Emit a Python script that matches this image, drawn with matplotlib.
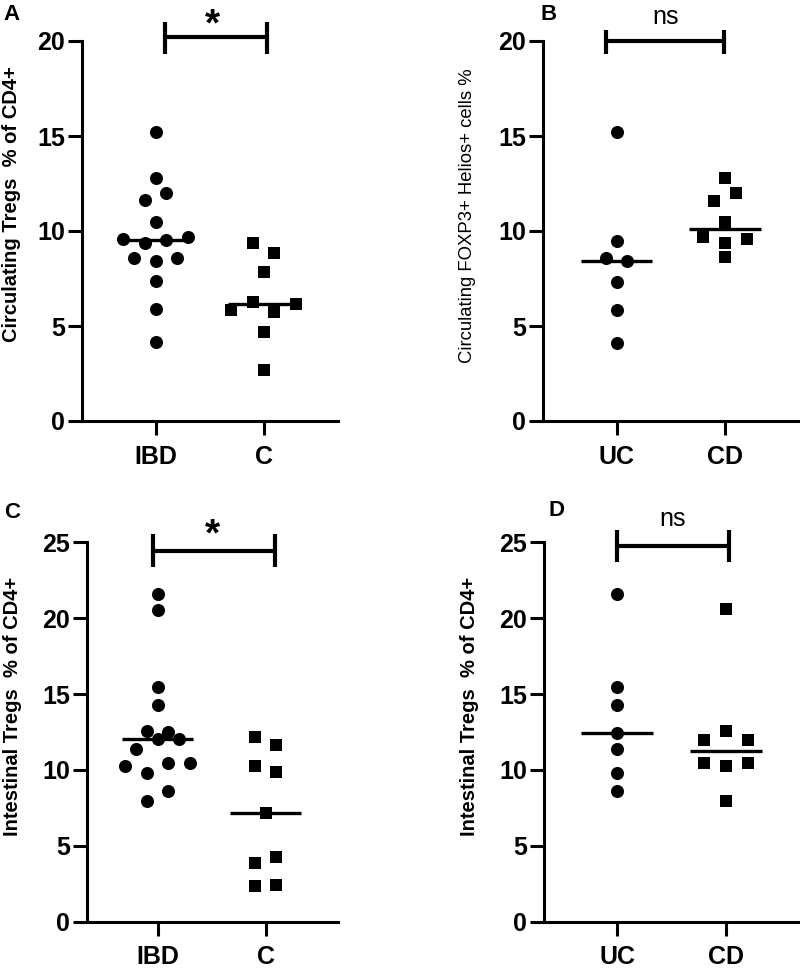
import numpy as np
import matplotlib
matplotlib.use("Agg")
import matplotlib.pyplot as plt

plt.rcParams['font.family'] = ['Liberation Sans', 'DejaVu Sans']

# ---- data ----
# A: circulating Tregs
a_groups = ["IBD", "C"]
a_ibd = [15.2, 12.77, 11.63, 12.02, 10.49, 9.58, 9.35, 9.53, 9.70, 8.56, 8.42, 8.56, 7.37, 5.88, 4.14]
a_ctrl = [9.39, 8.86, 7.86, 5.84, 6.25, 5.75, 6.14, 4.70, 2.68]

# B: circulating FOXP3+ Helios+
b_groups = ["UC", "CD"]
b_uc = [15.2, 9.49, 8.56, 8.42, 7.33, 5.84, 4.12]
b_cd = [12.77, 11.6, 11.98, 10.49, 9.70, 9.35, 9.56, 8.65]

# C: intestinal Tregs
c_groups = ["IBD", "C"]
c_ibd = [21.58, 20.55, 15.49, 14.29, 12.59, 12.51, 11.41, 12.02, 12.02, 10.26, 9.82, 10.48, 10.48, 7.98, 8.62]
c_ctrl = [12.2, 11.67, 10.26, 9.89, 7.19, 3.85, 4.29, 2.35, 2.42]

# D: intestinal Tregs by subtype
d_groups = ["UC", "CD"]
d_uc = [21.58, 15.49, 14.29, 12.46, 11.36, 9.82, 8.62]
d_cd = [20.59, 11.98, 12.59, 11.98, 10.44, 10.26, 10.48, 7.98]

W, H = 800, 969
fig = plt.figure(figsize=(W / 100, H / 100), dpi=100)


def swarm(vals, ppu, gap_px=12, step=0.2):
    # group close values into rows and spread them sideways
    vals = np.asarray(vals, dtype=float)
    order = np.argsort(vals, kind="stable")
    rows = []
    for i in order:
        if rows and (vals[i] - vals[rows[-1][0]]) * ppu < gap_px:
            rows[-1].append(i)
        else:
            rows.append([i])
    offs = np.zeros(len(vals))
    for r in rows:
        r = sorted(r)
        n = len(r)
        for k, i in enumerate(r):
            offs[i] = (k - (n - 1) / 2) * step
    return offs


def panel(box, xlim, ymax, ystep, groups, g1, g2, ylabel, label_bold, label_size,
          letter, letter_xy, ylab_xy, bracket, sig, sig_xy, sig_size, sig_bold):
    left, top, right, bottom = box
    ax = fig.add_axes([left / W, 1 - bottom / H, (right - left) / W, (bottom - top) / H])
    ppu = (bottom - top) / ymax
    for pos, vals, mk, ms in [(0, g1, 'o', 9.4), (1, g2, 's', 8.6)]:
        x = pos + swarm(vals, ppu)
        ax.plot(x, vals, linestyle='none', marker=mk, ms=ms, color='black',
                markeredgewidth=0, clip_on=False, zorder=3)
        med = np.median(vals)
        ax.plot([pos - 0.33, pos + 0.33], [med, med], color='black', lw=2.4,
                solid_capstyle='butt', zorder=4)
    ax.set_xlim(*xlim)
    ax.set_ylim(0, ymax)
    ax.set_yticks(np.arange(0, ymax + 0.1, ystep))
    ax.set_xticks([0, 1])
    ax.set_xticklabels(groups)
    for s in ['top', 'right']:
        ax.spines[s].set_visible(False)
    for s in ['left', 'bottom']:
        ax.spines[s].set_linewidth(2.2)
    ax.tick_params(axis='both', length=10, width=2.2, labelsize=18)
    ax.tick_params(axis='y', pad=2)
    ax.tick_params(axis='x', pad=7)
    for t in ax.get_xticklabels() + ax.get_yticklabels():
        t.set_fontweight('bold')
    # y label
    fig.text(ylab_xy[0] / W, 1 - ylab_xy[1] / H, ylabel, rotation=90,
             ha='center', va='center', fontsize=label_size,
             fontweight='bold' if label_bold else 'normal')
    # panel letter
    fig.text(letter_xy[0] / W, 1 - letter_xy[1] / H, letter, ha='center',
             va='center', fontsize=16, fontweight='bold')
    # significance bracket
    x0, x1, yb, ylo, yhi = bracket
    ax.plot([x0, x1], [yb, yb], color='black', lw=3, clip_on=False,
            solid_capstyle='butt')
    for xx in (x0, x1):
        ax.plot([xx, xx], [ylo, yhi], color='black', lw=3, clip_on=False,
                solid_capstyle='butt')
    ax.text(sig_xy[0], sig_xy[1], sig, ha='center', va='baseline',
            fontsize=sig_size, fontweight='bold' if sig_bold else 'normal',
            clip_on=False)
    return ax


panel((82, 41, 338, 421), (-0.68, 1.688), 20, 5, a_groups, a_ibd, a_ctrl,
      "Circulating Tregs  % of CD4+", True, 14.5, "A", (11, 15), (12, 204),
      (0.086, 1.03, 20.2, 19.3, 21.0), "*", (0.53, 20.3), 28, True)

panel((543, 41, 798, 421), (-0.68, 1.675), 20, 5, b_groups, b_uc, b_cd,
      "Circulating FOXP3+ Helios+ cells %", False, 13.3, "B", (549, 14), (468, 216),
      (-0.1, 0.99, 20.0, 19.3, 20.6), "ns", (0.455, 20.9), 18, False)

panel((86.7, 542.3, 338, 921.7), (-0.657, 1.67), 25, 5, c_groups, c_ibd, c_ctrl,
      "Intestinal Tregs  % of CD4+", True, 14.5, "C", (12, 512), (13, 706),
      (-0.046, 1.086, 24.42, 23.36, 25.54), "*", (0.51, 24.8), 28, True)

panel((544, 542.3, 798, 921.7), (-0.674, 1.663), 25, 5, d_groups, d_uc, d_cd,
      "Intestinal Tregs  % of CD4+", True, 14.5, "D", (557, 510), (469, 706),
      (-0.006, 1.03, 24.75, 23.69, 25.8), "ns", (0.513, 26.1), 18, False)

fig.savefig("out.png", dpi=100)
